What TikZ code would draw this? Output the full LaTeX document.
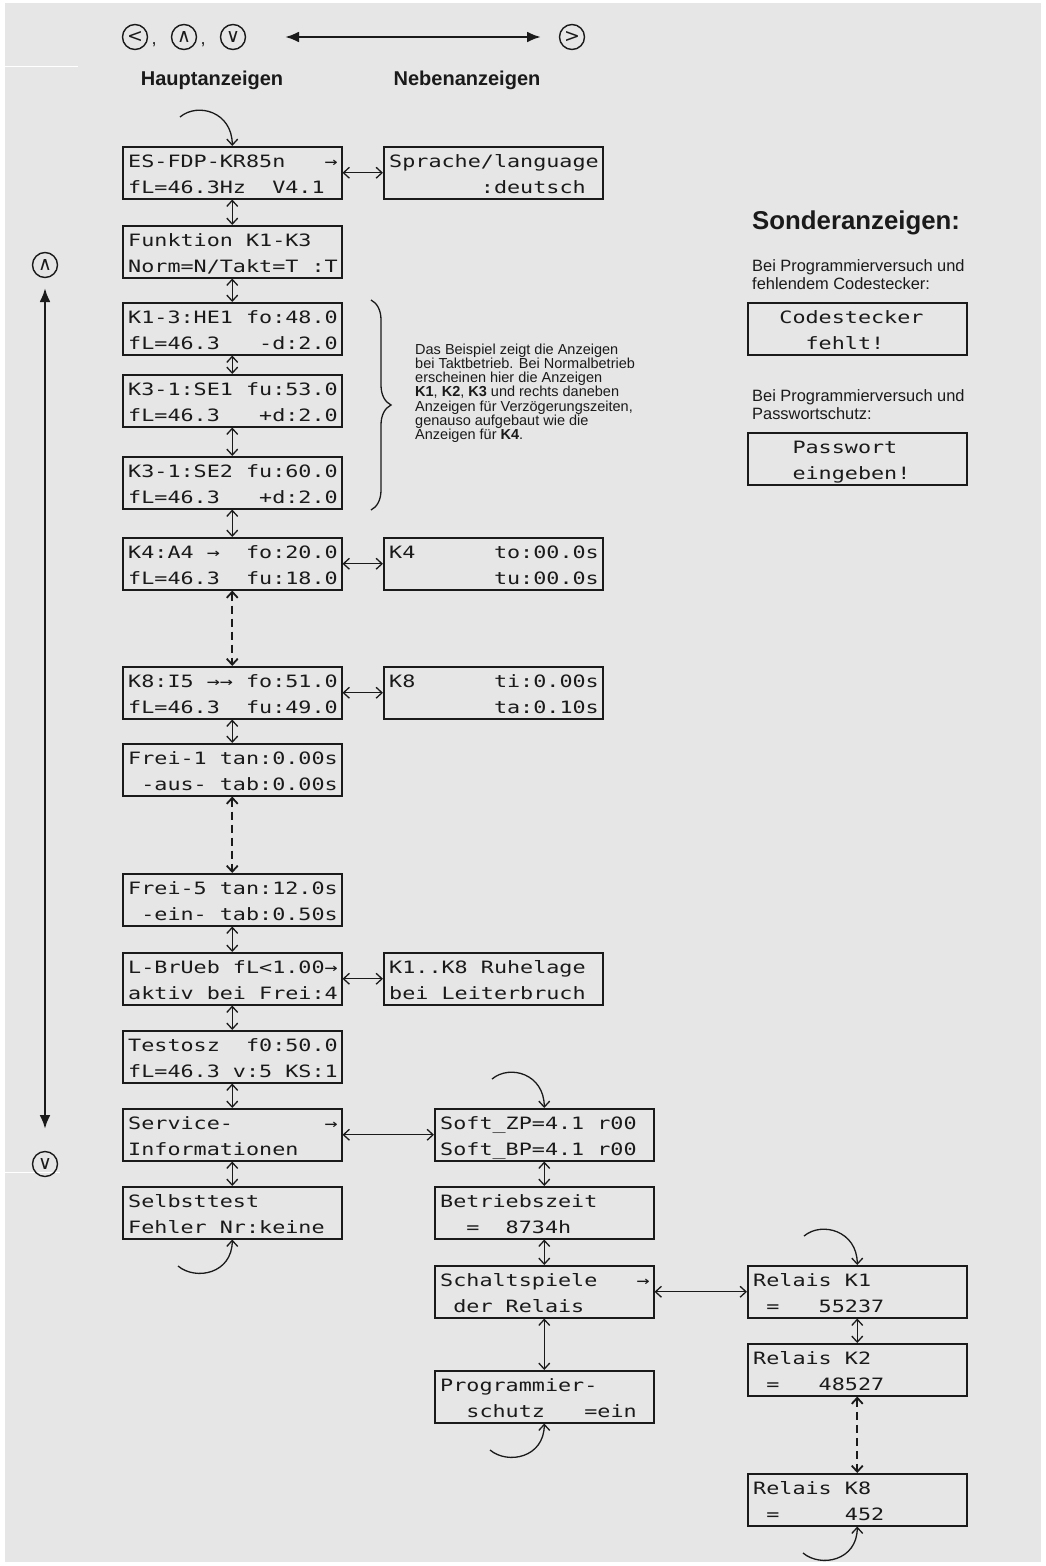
\documentclass[tikz,border=0pt]{standalone}
\usepackage{fontspec}
\setmainfont{Liberation Sans}
\newfontfamily\lcdfont[FakeStretch=1.28]{DejaVu Sans Mono}
\newfontfamily\symfont{DejaVu Sans}
\usetikzlibrary{arrows.meta,calc,decorations.pathreplacing}
\definecolor{bg}{HTML}{E6E6E6}
\definecolor{ink}{HTML}{1A1A1A}
\tikzset{
  lcdbox/.style={draw=ink, line width=1.5pt, minimum width=219pt, minimum height=52pt, inner sep=0pt, anchor=north west},
  lcdtext/.style={font=\lcdfont\fontsize{17}{26}\selectfont, text=ink, anchor=base west, inner sep=0pt},
  conn/.style={draw=ink, line width=1.3pt, {Straight Barb[length=6pt,width=11pt]}-{Straight Barb[length=6pt,width=11pt]}},
  dconn/.style={conn, line width=1.8pt, dash pattern=on 8pt off 5pt},
  loopar/.style={draw=ink, line width=1.3pt, -{Straight Barb[length=6pt,width=11pt]}},
  bigar/.style={draw=ink, line width=2.6pt, {Latex[length=14pt,width=11pt]}-{Latex[length=14pt,width=11pt]}},
  keyc/.style={draw=ink, circle, line width=1.4pt, minimum size=25pt, inner sep=0pt, text=ink, font=\symfont\fontsize{19}{19}\selectfont},
  headlbl/.style={font=\bfseries\fontsize{20}{24}\selectfont, text=ink, inner sep=0pt},
  note/.style={text=ink, inner sep=0pt, anchor=north west, align=left},
}
\newcommand{\mkbox}[5]{%
  \node[lcdbox] (#1) at (#2,#3) {};
  \node[lcdtext] (#1-a) at ($(#1.north west)+(6,21)$) {#4};
  \node[lcdtext] (#1-b) at ($(#1.north west)+(6,47)$) {#5};
}
\begin{document}
\begin{tikzpicture}[x=1pt,y=-1pt]
\useasboundingbox (0,0) rectangle (1046,1566);
\fill[white] (0,0) rectangle (1046,1566);
\fill[bg] (5,3) rectangle (1041,1562);
\draw[white, line width=1pt] (5,66) -- (78,66);
\draw[white, line width=1pt] (5,1172) -- (60,1172);

% top key legend
\node[keyc] (kl) at (135,37) {<};
\node[text=ink, font=\fontsize{18}{18}\selectfont, anchor=base, inner sep=0pt] (cm1) at (154,44) {,};
\node[keyc] (ku) at (184,37) {∧};
\node[text=ink, font=\fontsize{18}{18}\selectfont, anchor=base, inner sep=0pt] (cm2) at (203,44) {,};
\node[keyc] (kd) at (233,37) {∨};
\node[keyc] (kr) at (572,37) {>};
\coordinate (ha) at (285,37);
\coordinate (hb) at (541,37);
\draw[bigar] (ha) -- (hb);
\node[headlbl] (haupt) at (212,80) {Hauptanzeigen};
\node[headlbl] (neben) at (467,80) {Nebenanzeigen};

% left vertical arrow
\node[keyc] (lu) at (45,265) {∧};
\node[keyc] (ld) at (45,1164) {∨};
\coordinate (va) at (45,288);
\coordinate (vb) at (45,1129);
\draw[bigar] (va) -- (vb);

% main column
\mkbox{b1}{122}{146}{ES-FDP-KR85n~~~→}{fL=46.3Hz~~V4.1}
\mkbox{b2}{122}{225}{Funktion~K1-K3}{Norm=N/Takt=T~:T}
\mkbox{b3}{122}{302}{K1-3:HE1~fo:48.0}{fL=46.3~~~-d:2.0}
\mkbox{b4}{122}{374}{K3-1:SE1~fu:53.0}{fL=46.3~~~+d:2.0}
\mkbox{b5}{122}{456}{K3-1:SE2~fu:60.0}{fL=46.3~~~+d:2.0}
\mkbox{b6}{122}{537}{K4:A4~→~~fo:20.0}{fL=46.3~~fu:18.0}
\mkbox{b7}{122}{666}{K8:I5~→→~fo:51.0}{fL=46.3~~fu:49.0}
\mkbox{b8}{122}{743}{Frei-1~tan:0.00s}{~-aus-~tab:0.00s}
\mkbox{b9}{122}{873}{Frei-5~tan:12.0s}{~-ein-~tab:0.50s}
\mkbox{b10}{122}{952}{L-BrUeb~fL<1.00→}{aktiv~bei~Frei:4}
\mkbox{b11}{122}{1030}{Testosz~~f0:50.0}{fL=46.3~v:5~KS:1}
\mkbox{b12}{122}{1108}{Service-~~~~~~~→}{Informationen}
\mkbox{b13}{122}{1186}{Selbsttest}{Fehler~Nr:keine}

% side displays
\mkbox{r1}{383}{146}{Sprache/language}{~~~~~~~:deutsch}
\mkbox{r6}{383}{537}{K4~~~~~~to:00.0s}{~~~~~~~~tu:00.0s}
\mkbox{r7}{383}{666}{K8~~~~~~ti:0.00s}{~~~~~~~~ta:0.10s}
\mkbox{r10}{383}{952}{K1..K8~Ruhelage}{bei~Leiterbruch}

% service column
\mkbox{s1}{434}{1108}{Soft\_ZP=4.1~r00}{Soft\_BP=4.1~r00}
\mkbox{s2}{434}{1186}{Betriebszeit}{~~=~~8734h}
\mkbox{s3}{434}{1265}{Schaltspiele~~~→}{~der~Relais}
\mkbox{s4}{434}{1370}{Programmier-}{~~schutz~~~=ein}

% relais column
\mkbox{k1}{747}{1265}{Relais~K1}{~=~~~55237}
\mkbox{k2}{747}{1343}{Relais~K2}{~=~~~48527}
\mkbox{k8}{747}{1473}{Relais~K8}{~=~~~~~452}

% special displays
\node[font=\bfseries\fontsize{25.8}{30}\selectfont, text=ink, anchor=base west, inner sep=0pt] (sonder) at (752,229) {Sonderanzeigen:};
\node[note, font=\fontsize{16.4}{18.3}\selectfont] (st1) at (752,259.5) {Bei Programmierversuch und\\fehlendem Codestecker:};
\mkbox{c1}{747}{302}{~~Codestecker}{~~~~fehlt!}
\node[note, font=\fontsize{16.4}{18.3}\selectfont] (st2) at (752,389.5) {Bei Programmierversuch und\\Passwortschutz:};
\mkbox{c2}{747}{432}{~~~Passwort}{~~~eingeben!}

% explanation and brace
\coordinate (bra) at (371,300);
\coordinate (brb) at (371,510);
\draw[draw=ink, line width=1.3pt, decorate, decoration={brace, amplitude=20pt}] (bra) -- (brb);
\node[note, font=\fontsize{14.5}{14.2}\selectfont] (expl) at (415,343.5) {Das Beispiel zeigt die Anzeigen\\bei Taktbetrieb. Bei Normalbetrieb\\erscheinen hier die Anzeigen\\\textbf{K1}, \textbf{K2}, \textbf{K3} und rechts daneben\\Anzeigen für Verzögerungszeiten,\\genauso aufgebaut wie die\\Anzeigen für \textbf{K4}.};

% vertical connectors main column
\draw[conn] (b1.south) -- (b2.north);
\draw[conn] (b2.south) -- (b3.north);
\draw[conn] (b3.south) -- (b4.north);
\draw[conn] (b4.south) -- (b5.north);
\draw[conn] (b5.south) -- (b6.north);
\draw[dconn] (b6.south) -- (b7.north);
\draw[conn] (b7.south) -- (b8.north);
\draw[dconn] (b8.south) -- (b9.north);
\draw[conn] (b9.south) -- (b10.north);
\draw[conn] (b10.south) -- (b11.north);
\draw[conn] (b11.south) -- (b12.north);
\draw[conn] (b12.south) -- (b13.north);

% horizontal connectors
\draw[conn] (b1.east) -- (r1.west);
\draw[conn] (b6.east) -- (r6.west);
\draw[conn] (b7.east) -- (r7.west);
\draw[conn] (b10.east) -- (r10.west);
\draw[conn] (b12.east) -- (s1.west);
\draw[conn] (s3.east) -- (k1.west);

% service / relais connectors
\draw[conn] (s1.south) -- (s2.north);
\draw[conn] (s2.south) -- (s3.north);
\draw[conn] (s3.south) -- (s4.north);
\draw[conn] (k1.south) -- (k2.north);
\draw[dconn] (k2.south) -- (k8.north);

% loop arrows
\coordinate (lp1) at (180,117);
\draw[loopar] (lp1) .. controls +(18,-15) and +(0,-34) .. (b1.north);
\coordinate (lp2) at (178,1266);
\draw[loopar] (lp2) .. controls +(18,15) and +(0,34) .. (b13.south);
\coordinate (lp3) at (492,1079);
\draw[loopar] (lp3) .. controls +(18,-15) and +(0,-34) .. (s1.north);
\coordinate (lp4) at (490,1450);
\draw[loopar] (lp4) .. controls +(18,15) and +(0,34) .. (s4.south);
\coordinate (lp5) at (804,1236);
\draw[loopar] (lp5) .. controls +(18,-15) and +(0,-34) .. (k1.north);
\coordinate (lp6) at (803,1553);
\draw[loopar] (lp6) .. controls +(18,15) and +(0,34) .. (k8.south);
\end{tikzpicture}
\end{document}
